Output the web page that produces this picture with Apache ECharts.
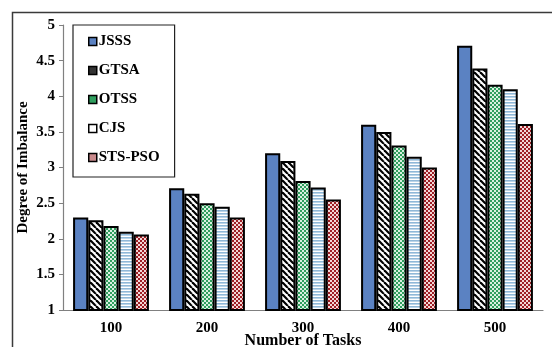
<!DOCTYPE html>
<html><head><meta charset="utf-8">
<script src="https://cdn.jsdelivr.net/npm/echarts@6/dist/echarts.min.js"></script>
<style>html,body{margin:0;padding:0;background:#fff}#c{width:552px;height:347px}</style>
</head><body><div id="c"></div>
<script>
const categories = ['100', '200', '300', '400', '500'];
const seriesNames = ['JSSS', 'GTSA', 'OTSS', 'CJS', 'STS-PSO'];
const JSSS = [2.30, 2.71, 3.20, 3.60, 4.71];
const GTSA = [2.26, 2.63, 3.09, 3.50, 4.39];
const OTSS = [2.18, 2.50, 2.81, 3.31, 4.16];
const CJS = [2.10, 2.45, 2.72, 3.15, 4.10];
const STSPSO = [2.06, 2.30, 2.55, 3.00, 3.61];
const yTicks = [1, 1.5, 2, 2.5, 3, 3.5, 4, 4.5, 5];

function tile(w, h, draw) {
  const c = document.createElement('canvas');
  c.width = w; c.height = h;
  const g = c.getContext('2d');
  draw(g);
  return { image: c, repeat: 'repeat' };
}
const patJSSS = '#5b82c2';
const patGTSA = tile(6, 6, g => {
  g.fillStyle = '#fff'; g.fillRect(0, 0, 6, 6);
  g.strokeStyle = '#000'; g.lineWidth = 2.2;
  for (let k = -6; k <= 12; k += 6) {
    g.beginPath(); g.moveTo(k, 0); g.lineTo(k + 6, 6); g.stroke();
  }
});
const patOTSS = tile(4, 4, g => {
  g.fillStyle = '#2f9e5e'; g.fillRect(0, 0, 4, 4);
  g.fillStyle = '#d9f0e0'; g.fillRect(0, 0, 2, 2); g.fillRect(2, 2, 2, 2);
});
const patCJS = tile(3, 3, g => {
  g.fillStyle = '#fff'; g.fillRect(0, 0, 3, 3);
  g.fillStyle = '#8fb8d8'; g.fillRect(0, 0, 3, 1.6);
});
const patSTS = tile(4, 4, g => {
  g.fillStyle = '#f2d6d6'; g.fillRect(0, 0, 4, 4);
  g.fillStyle = '#9e1f25'; g.fillRect(0, 0, 2, 2); g.fillRect(2, 2, 2, 2);
});
const fills = [patJSSS, patGTSA, patOTSS, patCJS, patSTS];
const legendSolid = ['#5b82c2', '#333', '#2f9e5e', '#fff', '#c98a8c'];
const values = [JSSS, GTSA, OTSS, CJS, STSPSO];

const font = '"Liberation Serif", "Times New Roman", serif';
const chart = echarts.init(document.getElementById('c'));
chart.setOption({
  animation: false,
  backgroundColor: '#fff',
  graphic: [{
    type: 'rect', left: 10, top: 10, z: -1,
    shape: { width: 600, height: 400 },
    style: { fill: 'none', stroke: '#3a3a3a', lineWidth: 1.5 }
  }],
  grid: { left: 63, right: 9, top: 25, bottom: 37, containLabel: false, outerBoundsMode: 'none' },
  legend: {
    orient: 'vertical', left: 73, top: 25,
    padding: [9, 15, 12, 15], itemGap: 14,
    borderColor: '#222', borderWidth: 1.2,
    itemWidth: 8, itemHeight: 8, icon: 'rect',
    textStyle: { fontFamily: font, fontWeight: 'bold', fontSize: 15, color: '#000', padding: [0, 0, 0, -3] },
    data: seriesNames.map((n, i) => ({
      name: n,
      itemStyle: { color: legendSolid[i], borderColor: '#000', borderWidth: 1.5 }
    }))
  },
  xAxis: {
    type: 'category', data: categories,
    name: 'Number of Tasks', nameLocation: 'middle', nameGap: 23, nameMoveOverlap: false,
    nameTextStyle: { fontFamily: font, fontWeight: 'bold', fontSize: 16, color: '#000' },
    axisLine: { lineStyle: { color: '#808080', width: 1.2 } },
    axisTick: { alignWithLabel: true, length: 4, lineStyle: { color: '#808080' } },
    axisLabel: { fontFamily: font, fontWeight: 'bold', fontSize: 15, color: '#000', margin: 11 }
  },
  yAxis: {
    type: 'value', min: 1, max: 5, interval: 0.5,
    name: 'Degree of Imbalance', nameLocation: 'middle', nameGap: 32, nameRotate: 90, nameMoveOverlap: false,
    nameTextStyle: { fontFamily: font, fontWeight: 'bold', fontSize: 15, color: '#000' },
    axisLine: { show: true, lineStyle: { color: '#808080', width: 1.2 } },
    axisTick: { show: true, length: 4, lineStyle: { color: '#808080' } },
    splitLine: { show: false },
    axisLabel: {
      fontFamily: font, fontWeight: 'bold', fontSize: 15, color: '#000', margin: 8,
      formatter: v => (yTicks.indexOf(v) >= 0 ? String(v) : '')
    }
  },
  series: seriesNames.map((n, i) => ({
    name: n, type: 'bar', data: values[i],
    barGap: '0%', barCategoryGap: '21%',
    itemStyle: { color: fills[i], borderColor: '#000', borderWidth: 2 }
  }))
});
</script></body></html>
